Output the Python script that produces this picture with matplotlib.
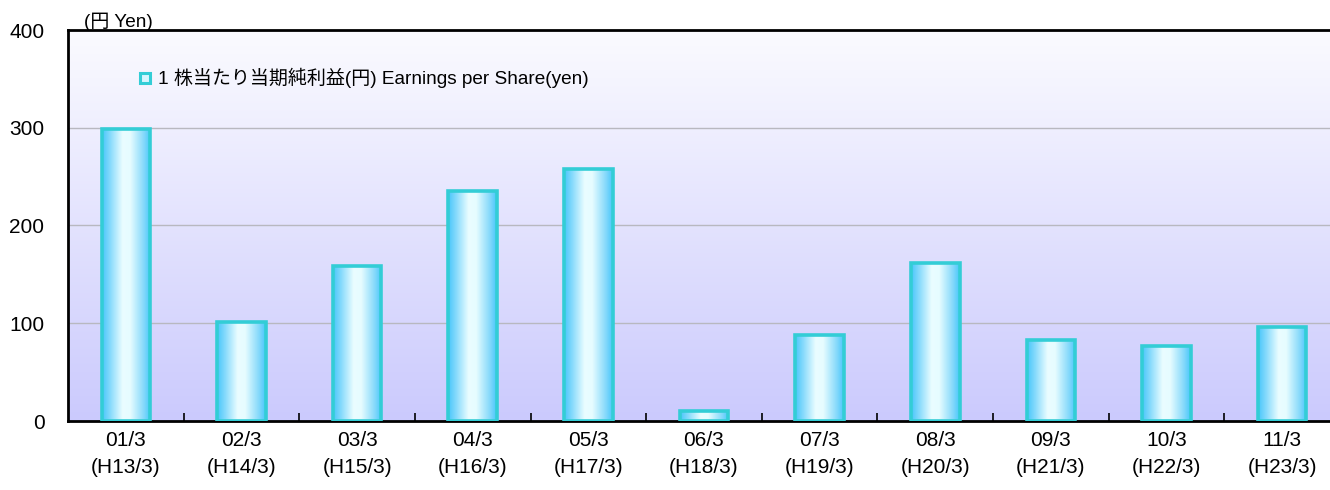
import numpy as np
import matplotlib
matplotlib.use("Agg")
import matplotlib.pyplot as plt
from matplotlib.colors import LinearSegmentedColormap
from matplotlib.patches import Rectangle

plt.rcParams['font.family'] = ['Liberation Sans', 'Noto Sans CJK JP', 'DejaVu Sans']

categories = ["01/3\n(H13/3)", "02/3\n(H14/3)", "03/3\n(H15/3)", "04/3\n(H16/3)",
              "05/3\n(H17/3)", "06/3\n(H18/3)", "07/3\n(H19/3)", "08/3\n(H20/3)",
              "09/3\n(H21/3)", "10/3\n(H22/3)", "11/3\n(H23/3)"]
eps = [299, 101, 159, 235, 258, 10, 88, 162, 83, 77, 96]
yticks = [0, 100, 200, 300, 400]
legend_label = "1 株当たり当期純利益(円) Earnings per Share(yen)"
unit_label = "(円 Yen)"

fig = plt.figure(figsize=(13.3, 4.9), dpi=100)
ax = fig.add_axes([68/1330, 69/490, 1272/1330, 391/490])

n = len(eps)
ax.set_xlim(-0.5, n - 0.5)
ax.set_ylim(0, 400)

# background gradient
bg = LinearSegmentedColormap.from_list("bg", ["#cbcafd", "#fbfbff"])
ax.imshow(np.linspace(0, 1, 256).reshape(-1, 1), cmap=bg, aspect='auto',
          extent=[-0.5, n - 0.5, 0, 400], origin='lower', zorder=0)

for y in yticks[1:-1]:
    ax.axhline(y, color='#b8b8c0', lw=1, zorder=1)

# bars with horizontal gradient
barcm = LinearSegmentedColormap.from_list(
    "bar", [(0, "#48c6fb"), (0.15, "#80d8fc"), (0.42, "#eafdff"), (0.58, "#e6fcff"),
            (0.85, "#88dafb"), (1, "#48c6fb")])
w = 0.42
grad = np.linspace(0, 1, 128).reshape(1, -1)
for i, v in enumerate(eps):
    ax.imshow(grad, cmap=barcm, aspect='auto',
              extent=[i - w/2, i + w/2, 0, v], zorder=2)
    ax.add_patch(Rectangle((i - w/2, 0), w, v, fill=False,
                           edgecolor='#33cdd6', lw=2.6, zorder=3))

ax.set_xticks(range(n))
ax.set_xticklabels(categories, fontsize=15, linespacing=1.55)
ax.set_xticks(np.arange(0.5, n - 0.5, 1), minor=True)
ax.tick_params(axis='x', which='major', length=0, pad=7)
ax.tick_params(axis='x', which='minor', direction='in', length=6, width=1.2, color='black')
ax.set_yticks(yticks)
ax.set_yticklabels([str(t) for t in yticks], fontsize=15)
ax.tick_params(axis='y', length=0, pad=17)

for s in ['left', 'bottom', 'top']:
    ax.spines[s].set_linewidth(2)
    ax.spines[s].set_color('black')
ax.spines['right'].set_visible(False)
ax.spines['top'].set_zorder(5)

# legend
fig.patches.append(Rectangle((140/1330, (490-83)/490), 10/1330, 10/490,
                             transform=fig.transFigure, facecolor='#d6f6ff',
                             edgecolor='#33cdd6', lw=2.2))
fig.text(158/1330, (490-78)/490, legend_label, fontsize=13.7, va='center', ha='left',
         family=['Liberation Sans', 'Noto Sans CJK JP'])
fig.text(84/1330, (490-22)/490, unit_label, fontsize=13.7, va='center', ha='left',
         family=['Liberation Sans', 'Noto Sans CJK JP'])

fig.savefig("out.png", dpi=100)
